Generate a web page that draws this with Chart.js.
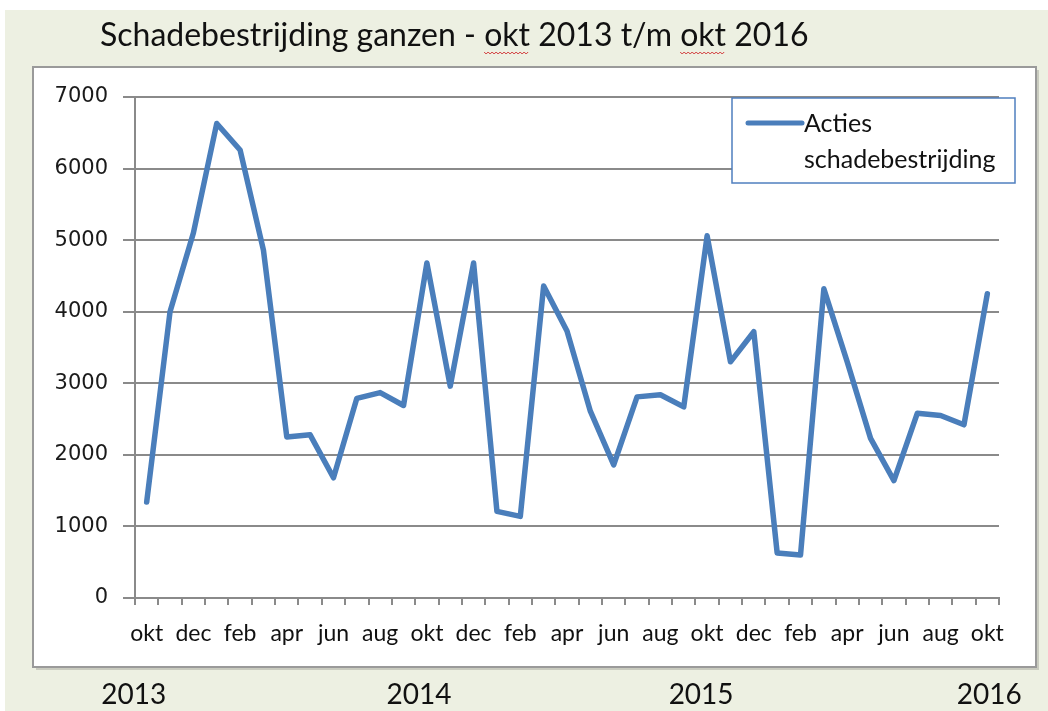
<!DOCTYPE html>
<html>
<head>
<meta charset="utf-8">
<script src="https://cdn.jsdelivr.net/npm/chart.js@4.4.1/dist/chart.umd.min.js"></script>
<style>
  html, body { margin:0; padding:0; background:#ffffff; }
  #wrap { width:1048px; height:711px; position:relative; }
</style>
</head>
<body>
<div id="wrap"><canvas id="c" width="1048" height="711"></canvas></div>
<script>
// ---- data ----
const titleText = 'Schadebestrijding ganzen - okt 2013 t/m okt 2016';
const seriesName = 'Acties schadebestrijding';
const months = ['okt','nov','dec','jan','feb','mrt','apr','mei','jun','jul','aug','sep',
                'okt','nov','dec','jan','feb','mrt','apr','mei','jun','jul','aug','sep',
                'okt','nov','dec','jan','feb','mrt','apr','mei','jun','jul','aug','sep',
                'okt'];
const acties = [1340, 4000, 5100, 6630, 6260, 4860, 2250, 2280, 1680, 2790, 2870, 2690,
                4680, 2960, 4680, 1210, 1140, 4360, 3730, 2610, 1860, 2810, 2840, 2670,
                5060, 3300, 3720, 630, 600, 4320, 3300, 2230, 1640, 2580, 2550, 2420,
                4250];
const yearLabels = ['2013','2014','2015','2016'];
const yearIndex = [0, 12, 24, 36];
const yTicks = [0,1000,2000,3000,4000,5000,6000,7000];

const GRID = '#8a8a8a';
const LINE = '#4a7ebb';
const CAL = 'Lato, "Open Sans", sans-serif';

const decor = {
  id: 'decor',
  beforeDraw(chart) {
    const ctx = chart.ctx;
    ctx.save();
    ctx.fillStyle = '#ffffff';
    ctx.fillRect(0, 0, 1048, 711);
    ctx.fillStyle = '#edf0e2';
    ctx.fillRect(5, 10, 1043, 701);
    ctx.fillStyle = '#c9cbbf';
    ctx.fillRect(36, 70, 1003, 600);
    ctx.fillStyle = '#ffffff';
    ctx.fillRect(33, 67, 1003, 600);
    ctx.strokeStyle = '#9a9a9a';
    ctx.lineWidth = 2;
    ctx.strokeRect(33, 67, 1003, 600);
    ctx.restore();
  },
  afterDraw(chart) {
    const ctx = chart.ctx;
    ctx.save();
    // title
    ctx.font = '32px ' + CAL;
    ctx.fillStyle = '#111111';
    ctx.textBaseline = 'middle';
    ctx.textAlign = 'left';
    const tx = 100, ty = 36;
    ctx.fillText(titleText, tx, ty);
    // spell-check squiggles under "okt"
    ctx.strokeStyle = '#d23a3a';
    ctx.lineWidth = 1;
    let from = 0;
    for (let k = 0; k < 2; k++) {
      const idx = titleText.indexOf('okt', from);
      from = idx + 3;
      const x0 = tx + ctx.measureText(titleText.slice(0, idx)).width;
      const w = ctx.measureText('okt').width;
      ctx.beginPath();
      for (let x = 0; x <= w; x += 2) {
        const yy = ty + 16 + ((x / 2) % 2 === 0 ? 0 : 2);
        if (x === 0) ctx.moveTo(x0 + x, yy); else ctx.lineTo(x0 + x, yy);
      }
      ctx.stroke();
    }
    // year labels below the box
    const xs = chart.scales.x;
    const offs = [-13, -8, -6, 2];
    ctx.font = '28px ' + CAL;
    ctx.textAlign = 'center';
    ctx.fillStyle = '#111111';
    yearLabels.forEach((t, i) => {
      ctx.fillText(t, xs.getPixelForValue(yearIndex[i]) + offs[i], 695);
    });
    // legend box
    const ds = chart.data.datasets[0];
    ctx.fillStyle = '#ffffff';
    ctx.fillRect(732, 98, 283, 85);
    ctx.strokeStyle = '#4f7fbf';
    ctx.lineWidth = 1.5;
    ctx.strokeRect(732, 98, 283, 85);
    ctx.strokeStyle = ds.borderColor;
    ctx.lineWidth = 5;
    ctx.lineCap = 'round';
    ctx.beginPath();
    ctx.moveTo(748, 123);
    ctx.lineTo(802, 123);
    ctx.stroke();
    ctx.font = '25px ' + CAL;
    ctx.fillStyle = '#111111';
    ctx.textAlign = 'left';
    const parts = ds.label.split(' ');
    ctx.fillText(parts[0], 804, 124);
    ctx.fillText(parts.slice(1).join(' '), 804, 160);
    ctx.restore();
  }
};

new Chart(document.getElementById('c'), {
  type: 'line',
  data: {
    labels: months,
    datasets: [{
      label: seriesName,
      data: acties,
      borderColor: LINE,
      backgroundColor: LINE,
      borderWidth: 5.5,
      pointRadius: 0,
      tension: 0,
      fill: false,
      borderJoinStyle: 'round',
      borderCapStyle: 'round'
    }]
  },
  options: {
    responsive: false,
    animation: false,
    events: [],
    layout: { padding: { left: 33, right: 49, top: 97, bottom: 0 } },
    plugins: { legend: { display: false }, title: { display: false }, tooltip: { enabled: false } },
    scales: {
      x: {
        type: 'category',
        offset: true,
        afterFit(s) { s.height = 113; },
        grid: { offset: true, drawOnChartArea: false, drawTicks: true, tickLength: 7, color: GRID, lineWidth: 2 },
        border: { display: true, color: GRID, width: 2 },
        ticks: {
          autoSkip: false, maxRotation: 0, minRotation: 0, padding: 15,
          color: '#111111', font: { family: CAL, size: 23 },
          callback: function(v, i) { return i % 2 === 0 ? months[i] : ''; }
        }
      },
      y: {
        min: 0, max: 7000,
        afterFit(s) { s.width = 102; },
        afterBuildTicks(s) { s.ticks = yTicks.map(v => ({ value: v })); },
        grid: { drawTicks: true, tickLength: 12, color: GRID, lineWidth: 2 },
        border: { display: true, color: GRID, width: 2 },
        ticks: {
          padding: 15, color: '#1a1a1a', font: { family: '"DejaVu Sans", sans-serif', size: 21 },
          callback: function(v) { return String(v); }
        }
      }
    }
  },
  plugins: [decor]
});
</script>
</body>
</html>
